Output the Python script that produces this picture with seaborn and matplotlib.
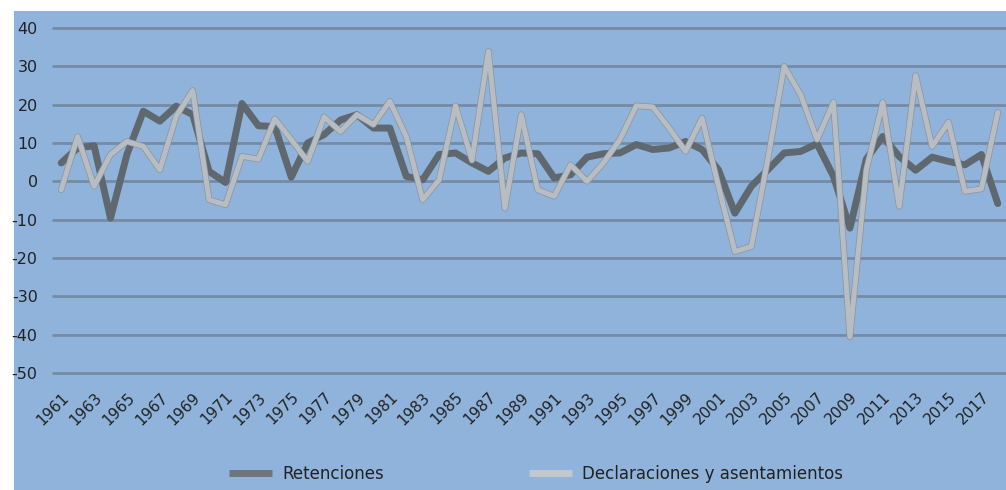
import matplotlib
matplotlib.use("Agg")
import matplotlib.pyplot as plt
import matplotlib.patheffects as pe
from matplotlib.lines import Line2D
import seaborn as sns
import pandas as pd

years = list(range(1961, 2019))
retenciones = [4.8, 8.7, 9.3, -9.6, 7.0, 18.3, 15.7, 19.6, 17.4, 2.6,
               -0.3, 20.3, 14.5, 14.3, 1.1, 10.0, 12.2, 16.0, 17.4, 13.9,
               13.9, 1.3, 0.4, 7.0, 7.4, 4.8, 2.6, 6.1, 7.4, 7.2,
               0.9, 1.7, 6.3, 7.2, 7.4, 9.6, 8.3, 8.7, 10.4, 8.3,
               3.0, -8.3, -1.3, 3.0, 7.4, 7.8, 9.8, 1.3, -12.2, 5.8,
               11.7, 6.5, 2.9, 6.3, 5.2, 4.3, 7.0, -5.8]
declaraciones = [-2.2, 11.7, -1.3, 7.0, 10.4, 9.1, 3.0, 17.0, 23.7, -4.8,
                 -6.1, 6.5, 5.8, 16.3, 10.9, 5.2, 16.8, 13.0, 17.4, 14.8,
                 20.9, 11.7, -4.8, 0.4, 19.7, 5.5, 33.9, -7.0, 17.4, -2.2,
                 -3.9, 4.3, 0.0, 4.8, 10.9, 19.7, 19.4, 13.9, 7.8, 16.5,
                 -1.3, -18.3, -17.0, 5.7, 30.0, 22.6, 10.9, 20.6, -40.6, 3.0,
                 20.6, -6.5, 27.6, 9.1, 15.4, -2.6, -2.0, 18.0]
series_names = ["Retenciones", "Declaraciones y asentamientos"]
y_ticks = list(range(-50, 41, 10))
x_tick_years = list(range(1961, 2018, 2))

df = pd.DataFrame({
    "year": years * 2,
    "value": retenciones + declaraciones,
    "serie": [series_names[0]] * len(years) + [series_names[1]] * len(years),
})

BLUE = "#8FB3DA"
GRID = "#758BA5"
DARK = "#5F686E"
LIGHT = "#B8BDC3"

sns.set_theme(style="white")
plt.rcParams["font.family"] = ["DejaVu Sans"]

fig = plt.figure(figsize=(10.06, 4.90), dpi=100)
fig.patch.set_facecolor("white")

bg = fig.add_axes([14 / 1006, 0, 1 - 14 / 1006, 1 - 11 / 490], zorder=-5)
bg.set_facecolor(BLUE)
bg.set_xticks([])
bg.set_yticks([])
for s in bg.spines.values():
    s.set_visible(False)

ax = fig.add_axes([53 / 1006, 1 - 373 / 490, 1 - 53 / 1006, (373 - 28) / 490], zorder=1)
ax.set_facecolor("none")

sns.lineplot(data=df, x="year", y="value", hue="serie", ax=ax,
             palette={series_names[0]: DARK, series_names[1]: LIGHT},
             legend=False, estimator=None)
lines = ax.get_lines()
lines[0].set_linewidth(5.0)
lines[0].set_zorder(3)
lines[0].set_solid_joinstyle("round")
lines[1].set_linewidth(3.6)
lines[1].set_zorder(4)
lines[1].set_solid_joinstyle("round")
lines[1].set_path_effects([pe.Stroke(linewidth=4.6, foreground="#8C939A"), pe.Normal()])
for ln in lines:
    ln.set_clip_on(False)

ax.set_xlim(1960.5, 2018.5)
ax.set_ylim(-50, 40)
ax.set_yticks(y_ticks)
ax.set_yticklabels([str(v) for v in y_ticks], fontsize=11.5, color="#222222")
ax.set_xticks(x_tick_years)
ax.set_xticklabels([str(v) for v in x_tick_years], rotation=45, ha="right",
                   rotation_mode="anchor", fontsize=11, color="#222222")
ax.tick_params(axis="y", length=0, pad=11)
ax.tick_params(axis="x", length=0, pad=12)
for y in y_ticks:
    ax.axhline(y, color=GRID, linewidth=2.0, zorder=1, clip_on=False)
for s in ax.spines.values():
    s.set_visible(False)
ax.set_xlabel("")
ax.set_ylabel("")

handles = [Line2D([0], [0], color="#6E767C", linewidth=5, solid_capstyle="butt"),
           Line2D([0], [0], color="#C4C8CC", linewidth=5, solid_capstyle="butt")]
leg = fig.legend(handles, series_names, loc="center", bbox_to_anchor=(536 / 1006, 1 - 474 / 490),
                 ncol=2, frameon=False, handlelength=2.6, handletextpad=0.6,
                 columnspacing=8.7, prop={"family": ["DejaVu Sans"], "size": 12})
for t in leg.get_texts():
    t.set_color("#222222")

fig.savefig("out.png", dpi=100)
